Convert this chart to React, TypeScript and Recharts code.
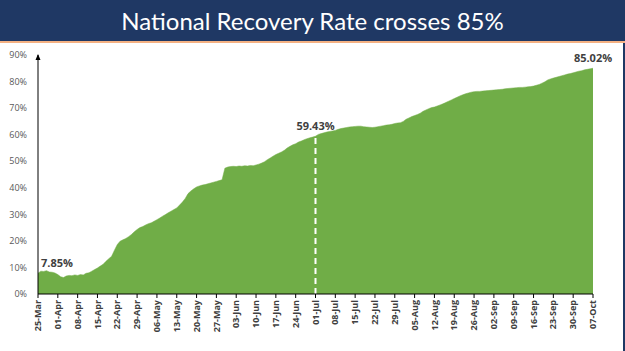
import { AreaChart, Area, XAxis, YAxis, ReferenceLine, ReferenceDot } from "recharts";

const MONTHS = ["Jan", "Feb", "Mar", "Apr", "May", "Jun", "Jul", "Aug", "Sep", "Oct", "Nov", "Dec"];

// daily national recovery rate (%), one row per week, first row starts 25-Mar
const recoveryRate: number[] = [
  7.85, 8.6, 8.5, 8.8, 8.3, 8.2, 7.9,
  7.3, 6.5, 6.2, 6.8, 7.0, 6.9, 7.2,
  7.0, 7.3, 7.2, 7.8, 8.0, 8.6, 9.2,
  9.8, 10.5, 11.2, 12.3, 13.3, 14.2, 16.5,
  18.6, 19.9, 20.4, 20.9, 21.6, 22.4, 23.4,
  24.3, 25.0, 25.4, 26.0, 26.5, 26.8, 27.4,
  28.0, 28.6, 29.3, 29.9, 30.6, 31.2, 31.8,
  32.4, 33.5, 34.6, 36.0, 37.8, 38.8, 39.6,
  40.3, 40.7, 41.0, 41.2, 41.5, 41.8, 42.1,
  42.4, 42.7, 43.0, 47.4, 47.8, 48.0, 48.1,
  48.0, 48.2, 48.1, 48.3, 48.2, 48.4, 48.3,
  48.6, 48.9, 49.3, 49.8, 50.6, 51.2, 51.9,
  52.5, 53.0, 53.5, 54.1, 55.0, 55.6, 56.2,
  56.6, 57.2, 57.6, 58.1, 58.5, 58.8, 59.1,
  59.43, 60.1, 60.4, 60.7, 61.0, 61.2, 61.4,
  61.6, 62.0, 62.3, 62.5, 62.7, 62.9, 63.0,
  63.1, 63.2, 63.2, 63.0, 62.9, 62.8, 62.7,
  62.8, 63.0, 63.2, 63.4, 63.6, 63.7, 63.9,
  64.2, 64.4, 64.5, 65.0, 65.8, 66.3, 66.8,
  67.2, 67.6, 68.1, 68.8, 69.3, 69.8, 70.2,
  70.4, 70.8, 71.2, 71.6, 72.1, 72.6, 73.1,
  73.6, 74.1, 74.6, 75.0, 75.4, 75.7, 76.0,
  76.2, 76.3, 76.3, 76.4, 76.5, 76.6, 76.7,
  76.8, 76.9, 77.0, 77.1, 77.3, 77.4, 77.5,
  77.6, 77.7, 77.8, 77.8, 77.9, 78.0, 78.1,
  78.3, 78.6, 78.9, 79.4, 79.9, 80.6, 81.0,
  81.3, 81.6, 81.9, 82.2, 82.5, 82.8, 83.0,
  83.3, 83.6, 83.9, 84.1, 84.4, 84.6, 84.8,
  85.02,
];

const weekTicks = [
  "25-Mar", "01-Apr", "08-Apr", "15-Apr", "22-Apr", "29-Apr", "06-May", "13-May",
  "20-May", "27-May", "03-Jun", "10-Jun", "17-Jun", "24-Jun", "01-Jul", "08-Jul",
  "15-Jul", "22-Jul", "29-Jul", "05-Aug", "12-Aug", "19-Aug", "26-Aug", "02-Sep",
  "09-Sep", "16-Sep", "23-Sep", "30-Sep", "07-Oct",
];

const yTicks = [0, 10, 20, 30, 40, 50, 60, 70, 80, 90];

const labelDates = ["25-Mar", "01-Jul", "07-Oct"];
const labelTexts = ["7.85%", "59.43%", "85.02%"];

const dates = recoveryRate.map((_, i) => {
  const d = new Date(2020, 2, 25 + i);
  return `${String(d.getDate()).padStart(2, "0")}-${MONTHS[d.getMonth()]}`;
});

const data = dates.map((date, i) => ({ date, rate: recoveryRate[i] }));

const FONT = "'Open Sans', sans-serif";

const DateTick = ({ x, y, payload }: any) => (
  <text
    x={x}
    y={y}
    transform={`rotate(-90 ${x} ${y})`}
    textAnchor="end"
    dy="0.35em"
    fontSize={9}
    fontWeight={700}
    fill="#404040"
    fontFamily={FONT}
  >
    {payload.value}
  </text>
);

const renderLabel = (props: any) => {
  const { x, y, index } = props;
  const k = labelDates.indexOf(data[index]?.date);
  if (k < 0) return null;
  const first = index === 0;
  return (
    <text
      key={`lbl-${index}`}
      x={first ? x + 3 : x}
      y={y - 6}
      textAnchor={first ? "start" : "middle"}
      fontSize={11}
      fontWeight={700}
      fill="#404040"
      fontFamily={FONT}
    >
      {labelTexts[k]}
    </text>
  );
};

const ArrowHead = ({ cx, cy }: any) => (
  <path d={`M${cx - 2.5},${cy + 5} L${cx},${cy - 1} L${cx + 2.5},${cy + 5} Z`} fill="#000" />
);

export default function App() {
  return (
    <div
      style={{
        position: "fixed",
        top: 0,
        left: 0,
        width: 625,
        height: 351,
        background: "#fff",
        overflow: "hidden",
      }}
    >
      <div
        style={{
          height: 41,
          background: "#1f3864",
          color: "#fff",
          textAlign: "center",
          fontFamily: "Lato, sans-serif",
          fontSize: 24,
          lineHeight: "41px",
        }}
      >
        National Recovery Rate crosses 85%
      </div>
      <div style={{ height: 2, background: "#f4b183" }} />
      <AreaChart
        width={625}
        height={308}
        data={data}
        margin={{ top: 12, right: 32, left: 8, bottom: 1 }}
      >
        <XAxis
          dataKey="date"
          ticks={weekTicks}
          interval={0}
          tick={<DateTick />}
          tickSize={4}
          tickMargin={2}
          height={56}
          axisLine={{ stroke: "#000" }}
          tickLine={{ stroke: "#000" }}
        />
        <YAxis
          domain={[0, 90]}
          ticks={yTicks}
          tickFormatter={(v: number) => `${v}%`}
          width={30}
          tickLine={false}
          tickMargin={5}
          axisLine={{ stroke: "#000" }}
          tick={{ fill: "#595959", fontSize: 9, fontFamily: FONT }}
        />
        <Area
          type="linear"
          dataKey="rate"
          stroke="#70ad47"
          strokeWidth={0.5}
          fill="#70ad47"
          fillOpacity={1}
          isAnimationActive={false}
          label={renderLabel}
        />
        <ReferenceLine
          segment={[
            { x: "01-Jul", y: 0 },
            { x: "01-Jul", y: 59.43 },
          ]}
          stroke="#fff"
          strokeWidth={2}
          strokeDasharray="6 4"
        />
        <ReferenceDot x="25-Mar" y={90} r={0} shape={<ArrowHead />} />
      </AreaChart>
      <div
        style={{
          position: "absolute",
          top: 43,
          right: 0,
          width: 2,
          bottom: 0,
          background: "#1f3864",
        }}
      />
    </div>
  );
}
